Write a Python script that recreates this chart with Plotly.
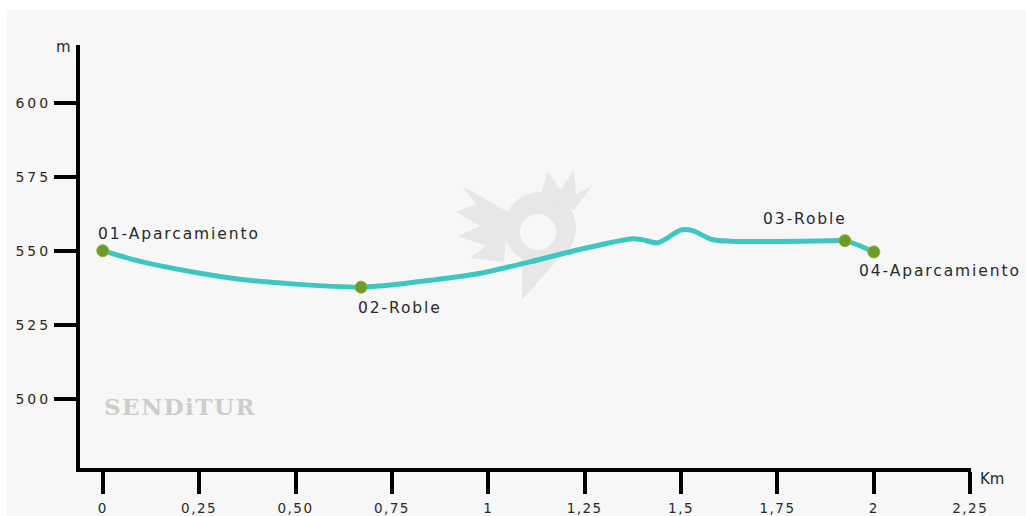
import math
import plotly.graph_objects as go

# Elevation profile (distance in km, altitude in m)
dist_km = [0, 0.10, 0.23, 0.36, 0.49, 0.67, 0.72, 0.85, 0.98, 1.11, 1.24, 1.37, 1.40,
           1.44, 1.50, 1.53, 1.58, 1.63, 1.75, 1.89, 1.925, 2.0]
alt_m = [550, 546.3, 542.9, 540.3, 538.8, 537.7, 538.1, 540.0, 542.4, 546.3, 550.5, 554.0,
         553.7, 552.7, 557.0, 556.8, 553.8, 553.2, 553.1, 553.4, 553.4, 549.6]

# Waypoints
wp_names = ["01-Aparcamiento", "02-Roble", "03-Roble", "04-Aparcamiento"]
wp_dist = [0, 0.67, 1.925, 2.0]
wp_alt = [550, 537.7, 553.4, 549.6]

# Axis ticks
x_tickvals = [0, 0.25, 0.5, 0.75, 1, 1.25, 1.5, 1.75, 2, 2.25]
x_ticktext = ["0", "0,25", "0,50", "0,75", "1", "1,25", "1,5", "1,75", "2", "2,25"]
y_tickvals = [500, 525, 550, 575, 600]
y_ticktext = ["500", "525", "550", "575", "600"]

FONT = "DejaVu Sans"
TXT = "#2a2a2a"
ML, MR, MT, MB = 80, 55, 45, 48
W, H = 1026, 516
PW, PH = W - ML - MR, H - MT - MB


def sp(t, ls=1):
    return f'<span style="letter-spacing:{ls}px">{t}</span>'


def px2paper(px, py):
    return (px - ML) / PW, (H - MB - py) / PH


def path_from(points, close=True):
    pts = [px2paper(*p) for p in points]
    s = "M " + " L ".join(f"{x:.4f},{y:.4f}" for x, y in pts)
    return s + (" Z" if close else "")


fig = go.Figure()

# light grey background panel
x0, y1 = px2paper(7, 10)
x1, y0 = px2paper(1030, 520)
fig.add_shape(type="rect", xref="paper", yref="paper", x0=x0, x1=x1, y0=y0, y1=y1,
              fillcolor="#f7f7f7", line=dict(width=0), layer="below")

# faint watermark logo (pin with wings and crown)
LOGO = "#e7e7e7"
outer = [(540 + 36 * math.cos(math.radians(a)), 228 - 36 * math.sin(math.radians(a)))
         for a in range(-60, 241, 10)]
pin = outer + [(522, 300)]
hole = [(538 + 18 * math.cos(math.radians(a)), 232 - 18 * math.sin(math.radians(a)))
        for a in range(360, -1, -15)]
fig.add_shape(type="path", xref="paper", yref="paper",
              path=path_from(pin) + " " + path_from(hole),
              fillcolor=LOGO, line=dict(width=0), layer="below")
wing = [(508, 212), (462, 186), (476, 204), (456, 212), (480, 226), (458, 236),
        (486, 246), (470, 258), (504, 262)]
fig.add_shape(type="path", xref="paper", yref="paper", path=path_from(wing),
              fillcolor=LOGO, line=dict(width=0), layer="below")
crown = [(540, 196), (548, 172), (560, 190), (574, 170), (576, 194), (592, 186), (574, 210)]
fig.add_shape(type="path", xref="paper", yref="paper", path=path_from(crown),
              fillcolor=LOGO, line=dict(width=0), layer="below")

fig.add_trace(go.Scatter(
    x=dist_km, y=alt_m, mode="lines",
    line=dict(color="#3ec6c1", width=5, shape="spline", smoothing=0.8),
    hoverinfo="skip", showlegend=False,
))
fig.add_trace(go.Scatter(
    x=wp_dist, y=wp_alt, mode="markers",
    marker=dict(color="#6e9a2c", size=12, line=dict(color="#8fae3a", width=1)),
    text=wp_names, showlegend=False,
))

# waypoint labels: (xanchor, xshift, yshift)
label_pos = [("left", -7, 17), ("left", -5, -21), ("right", 4, 22), ("left", -17, -19)]
for name, xv, yv, (xa, xs, ys) in zip(wp_names, wp_dist, wp_alt, label_pos):
    fig.add_annotation(x=xv, y=yv, text=sp(name, 1.9), showarrow=False, xanchor=xa,
                       xshift=xs, yshift=ys, font=dict(family=FONT, size=15.5, color=TXT))

# axis unit labels
fig.add_annotation(xref="paper", yref="paper", x=-0.008, y=0.995, text="m", showarrow=False,
                   xanchor="right", yanchor="middle", font=dict(family=FONT, size=15, color=TXT))
fig.add_annotation(xref="paper", yref="paper", x=1.008, y=-0.025, text="Km", showarrow=False,
                   xanchor="left", yanchor="middle", font=dict(family=FONT, size=15, color=TXT))

# watermark text
fig.add_annotation(xref="paper", yref="paper", x=0.025, y=0.145,
                   text=sp("<b>SENDiTUR</b>", 1.5),
                   showarrow=False, xanchor="left", yanchor="middle",
                   font=dict(family="DejaVu Serif", size=23, color="#cdcdcd"))

fig.update_layout(
    width=W, height=H,
    margin=dict(l=ML, r=MR, t=MT, b=MB, autoexpand=False),
    paper_bgcolor="white", plot_bgcolor="rgba(0,0,0,0)",
    xaxis=dict(range=[-0.059, 2.252], tickvals=x_tickvals,
               ticktext=[sp(t, 1.5) for t in x_ticktext], automargin=False,
               showgrid=False, zeroline=False, showline=True, linecolor="black", linewidth=4,
               ticks="outside", ticklen=22, tickwidth=4, tickcolor="black",
               ticklabelstandoff=3,
               tickfont=dict(family=FONT, size=13.5, color=TXT)),
    yaxis=dict(range=[476.6, 619.5], tickvals=y_tickvals,
               ticktext=[sp(t, 3) for t in y_ticktext], automargin=False,
               showgrid=False, zeroline=False, showline=True, linecolor="black", linewidth=4,
               ticks="outside", ticklen=22, tickwidth=4, tickcolor="black",
               tickfont=dict(family=FONT, size=14, color=TXT)),
)

post = ("document.body.style.margin='0';document.body.style.overflow='hidden';"
        "Plotly.relayout('{plot_id}', {width: %d, height: %d});" % (W, H))
fig.write_html("out.html", post_script=post, config={"displayModeBar": False})
